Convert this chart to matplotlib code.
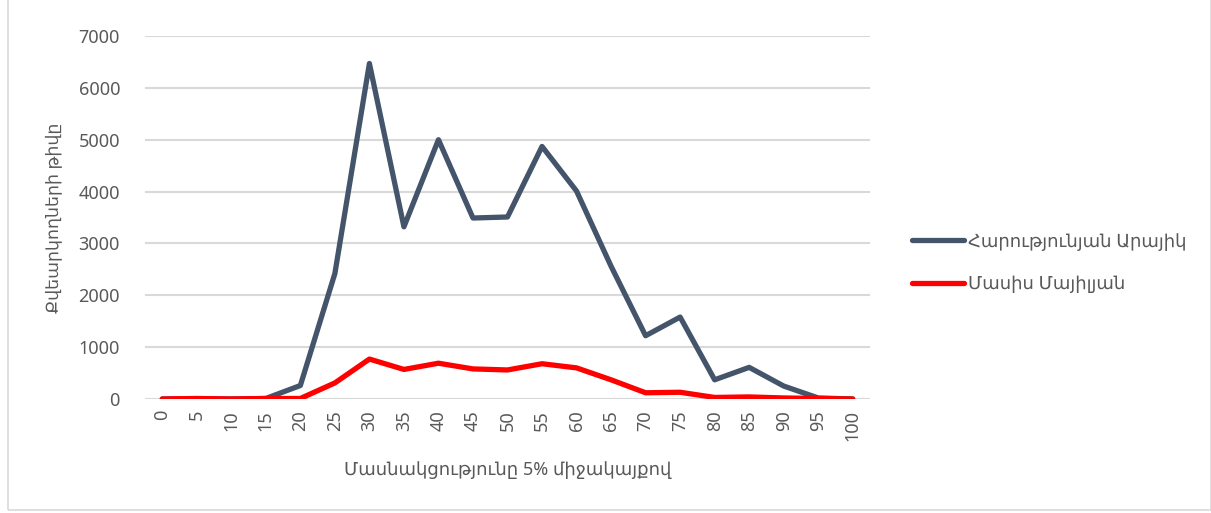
import numpy as np
import matplotlib.pyplot as plt
from matplotlib.patches import Rectangle

plt.rcParams['font.family'] = ['Noto Sans', 'DejaVu Sans']

# data
bins = [0, 5, 10, 15, 20, 25, 30, 35, 40, 45, 50,
        55, 60, 65, 70, 75, 80, 85, 90, 95, 100]
harutyunyan = [0, 5, 0, 10, 260, 2420, 6470, 3320, 5000, 3490, 3510,
               4870, 4010, 2560, 1220, 1580, 370, 610, 250, 20, 0]
masis = [0, 10, 0, 10, 10, 310, 770, 570, 690, 580, 560,
         680, 600, 370, 120, 130, 30, 40, 20, 10, 0]
series_names = ['Հարությունյան Արայիկ', 'Մասիս Մայիլյան']
x_title = 'Մասնակցությունը 5% միջակայքով'
y_title = 'Քվեարկողների թիվը'

fig = plt.figure(figsize=(12.11, 5.13), dpi=100)
ax = fig.add_axes([145 / 1211, 1 - 399 / 513, 725 / 1211, 363 / 513])

pos = np.arange(len(bins))
ax.plot(pos, harutyunyan, color='#44546a', lw=3.8, label=series_names[0],
        solid_joinstyle='round', solid_capstyle='round')
ax.plot(pos, masis, color='#ff0000', lw=3.8, label=series_names[1],
        solid_joinstyle='round', solid_capstyle='round')

ax.set_xlim(-0.5, len(bins) - 0.5)
ax.set_ylim(0, 7000)
ax.set_yticks(range(0, 7001, 1000))
ax.set_xticks(pos)
ax.set_xticklabels([str(b) for b in bins], rotation=90)
ax.tick_params(length=0, labelsize=13, colors='#595959')
ax.tick_params(axis='x', pad=8)
ax.tick_params(axis='y', pad=18)
ax.grid(axis='y', color='#d9d9d9', lw=1.5)
ax.set_axisbelow(True)
for s in ax.spines.values():
    s.set_visible(False)

ax.set_xlabel(x_title, fontsize=13, color='#595959', labelpad=14)
ax.set_ylabel(y_title, fontsize=12.5, color='#595959', labelpad=12)

leg = ax.legend(loc='center left', bbox_to_anchor=(1.035, 0.375), frameon=False,
                fontsize=13, labelspacing=1.35, handlelength=2.9, handletextpad=0.25)
for t in leg.get_texts():
    t.set_color('#595959')

fig.patches.append(Rectangle((8 / 1211, 0.005), 1 - 8 / 1211, 1.5, transform=fig.transFigure,
                             fill=False, edgecolor='#d9d9d9', lw=1.2))

fig.savefig('out.png', dpi=100)
